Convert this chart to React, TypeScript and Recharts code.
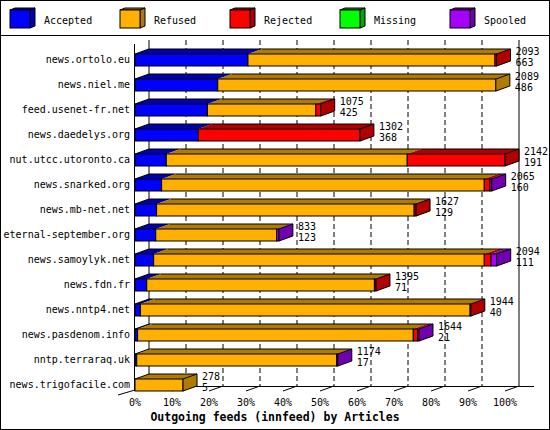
// Outgoing feeds (innfeed) by Articles — 3D-ish stacked horizontal bars (Recharts)
import { BarChart, Bar, XAxis, YAxis } from "recharts";

const HOSTS = [
  "news.ortolo.eu",
  "news.niel.me",
  "feed.usenet-fr.net",
  "news.daedelys.org",
  "nut.utcc.utoronto.ca",
  "news.snarked.org",
  "news.mb-net.net",
  "eternal-september.org",
  "news.samoylyk.net",
  "news.fdn.fr",
  "news.nntp4.net",
  "news.pasdenom.info",
  "nntp.terraraq.uk",
  "news.trigofacile.com",
];
const ACCEPTED = [654, 479, 419, 366, 181, 154, 125, 120, 108, 68, 31, 15, 10, 0];
const REFUSED = [1430, 1610, 628, 0, 1395, 1868, 1491, 700, 1914, 1318, 1909, 1596, 1158, 278];
const REJECTED = [9, 0, 28, 936, 566, 33, 11, 0, 39, 9, 4, 25, 0, 0];
const MISSING = [0, 0, 0, 0, 0, 0, 0, 0, 0, 0, 0, 0, 0, 0];
const SPOOLED = [0, 0, 0, 0, 0, 10, 0, 13, 33, 0, 0, 8, 6, 0];
const TOTAL = [2093, 2089, 1075, 1302, 2142, 2065, 1627, 833, 2094, 1395, 1944, 1644, 1174, 278];
const SECOND = [663, 486, 425, 368, 191, 160, 129, 123, 111, 71, 40, 21, 17, 5];
const TICK_PCT = [0, 10, 20, 30, 40, 50, 60, 70, 80, 90, 100];

// series: key, legend name, front colour, side/top colour
const SERIES = [
  { key: "accepted", name: "Accepted", front: "#0000ff", dark: "#0000b0" },
  { key: "refused", name: "Refused", front: "#ffb000", dark: "#b07c00" },
  { key: "rejected", name: "Rejected", front: "#ff0000", dark: "#b00000" },
  { key: "missing", name: "Missing", front: "#00ff00", dark: "#00a800" },
  { key: "spooled", name: "Spooled", front: "#a800ff", dark: "#7000b0" },
];

const data = HOSTS.map((host, i) => ({
  host,
  accepted: ACCEPTED[i],
  refused: REFUSED[i],
  rejected: REJECTED[i],
  missing: MISSING[i],
  spooled: SPOOLED[i],
  total: TOTAL[i],
  second: SECOND[i],
}));

const MAX = Math.max(...TOTAL);
const TICKS = TICK_PCT.map((p) => (p * MAX) / 100);

const W = 550;
const H = 430;
const FONT = "'DejaVu Sans Mono', monospace";
// plot area (front plane)
const LEFT = 135;
const RIGHT = 505;
const TOP = 47;
const BOTTOM = 397;
// depth of the 3D effect
const DX = 14;
const DY = 5;

const lastKey = (row: any) => {
  let k = "";
  SERIES.forEach((s) => {
    if (row[s.key] > 0) k = s.key;
  });
  return k;
};

const makeShape = (idx: number) => (props: any) => {
  const { x, y, width, height, payload } = props;
  const s = SERIES[idx];
  if (!width || width <= 0) return <g />;
  const isLast = lastKey(payload) === s.key;
  const top = `${x},${y} ${x + width},${y} ${x + width + DX},${y - DY} ${x + DX},${y - DY}`;
  const side = `${x + width},${y} ${x + width + DX},${y - DY} ${x + width + DX},${y + height - DY} ${x + width},${y + height}`;
  return (
    <g>
      <polygon points={top} fill={s.dark} stroke="none" />
      <line x1={x + DX} y1={y - DY} x2={x + width + DX} y2={y - DY} stroke="#000" />
      {idx === 0 || (payload.accepted === 0 && idx === 1) ? (
        <line x1={x} y1={y} x2={x + DX} y2={y - DY} stroke="#000" />
      ) : null}
      <rect x={x} y={y} width={width} height={height} fill={s.front} stroke="#000" />
      {isLast ? (
        <g>
          <polygon points={side} fill={s.dark} stroke="#000" />
          <text x={x + width + DX + 5} y={y + 0.5} fontFamily={FONT} fontSize={10} fill="#000">
            {payload.total}
          </text>
          <text x={x + width + DX + 5} y={y + 11.5} fontFamily={FONT} fontSize={10} fill="#000">
            {payload.second}
          </text>
        </g>
      ) : null}
    </g>
  );
};

function Backdrop() {
  const step = (RIGHT - LEFT) / 10;
  const backTop = 40;
  const backBottom = 386;
  return (
    <svg width={W} height={H} style={{ position: "absolute", left: 0, top: 0 }}>
      <rect x={0.5} y={0.5} width={W - 1} height={H - 1} fill="#fff" stroke="#000" />
      <line x1={0} y1={35.5} x2={W} y2={35.5} stroke="#000" />
      {/* legend */}
      {SERIES.map((s, i) => {
        const bx = 10 + i * 110;
        const by = 10;
        return (
          <g key={s.key}>
            <polygon
              points={`${bx},${by} ${bx + 20},${by} ${bx + 25},${by - 2} ${bx + 5},${by - 2}`}
              fill={s.dark}
              stroke="#000"
            />
            <polygon
              points={`${bx + 20},${by} ${bx + 25},${by - 2} ${bx + 25},${by + 16} ${bx + 20},${by + 18}`}
              fill={s.dark}
              stroke="#000"
            />
            <rect x={bx} y={by} width={20} height={18} fill={s.front} stroke="#000" />
            <text x={bx + 34} y={24} fontFamily={FONT} fontSize={10} fill="#000">
              {s.name}
            </text>
          </g>
        );
      })}
      {/* back plane */}
      {TICK_PCT.map((p, i) => {
        const bx = LEFT + DX + i * step;
        const solid = i === 0 || i === 10;
        return (
          <line
            key={p}
            x1={bx}
            y1={backTop}
            x2={bx}
            y2={backBottom}
            stroke="#000"
            strokeDasharray={solid ? undefined : "5 3"}
          />
        );
      })}
      <line x1={LEFT + DX} y1={backBottom + 0.5} x2={RIGHT + DX + 15} y2={backBottom + 0.5} stroke="#000" />
      {/* front left axis */}
      <line x1={LEFT - 0.5} y1={44} x2={LEFT - 0.5} y2={391} stroke="#000" />
      <line x1={118} y1={395} x2={LEFT} y2={390} stroke="#000" />
      {TICK_PCT.slice(1).map((p, i) => {
        const fx = LEFT + (i + 1) * step;
        return <line key={p} x1={fx} y1={391} x2={fx + DX} y2={386} stroke="#000" />;
      })}
      <text
        x={275}
        y={421}
        textAnchor="middle"
        fontFamily={FONT}
        fontSize={11.5}
        fontWeight="bold"
        fill="#000"
      >
        Outgoing feeds (innfeed) by Articles
      </text>
    </svg>
  );
}

export default function App() {
  return (
    <div style={{ position: "absolute", left: 0, top: 0, width: W, height: H }}>
      <Backdrop />
      <div style={{ position: "absolute", left: 0, top: 0 }}>
        <BarChart
          width={W}
          height={H}
          data={data}
          layout="vertical"
          margin={{ top: TOP, right: W - RIGHT, bottom: 3, left: 5 }}
          barSize={12}
        >
          <XAxis
            type="number"
            domain={[0, MAX]}
            ticks={TICKS}
            tickFormatter={(v: number) => `${Math.round((v / MAX) * 100)}%`}
            axisLine={false}
            tickLine={false}
            tickSize={0}
            tickMargin={2}
            height={30}
            interval={0}
            tick={{ fontFamily: FONT, fontSize: 10, fill: "#000" }}
          />
          <YAxis
            type="category"
            dataKey="host"
            width={130}
            axisLine={false}
            tickLine={false}
            tickSize={0}
            tickMargin={5}
            interval={0}
            tick={{ fontFamily: FONT, fontSize: 10, fill: "#000" }}
          />
          {SERIES.map((s, i) => (
            <Bar
              key={s.key}
              dataKey={s.key}
              name={s.name}
              stackId="a"
              fill={s.front}
              shape={makeShape(i)}
              isAnimationActive={false}
            />
          ))}
        </BarChart>
      </div>
    </div>
  );
}
